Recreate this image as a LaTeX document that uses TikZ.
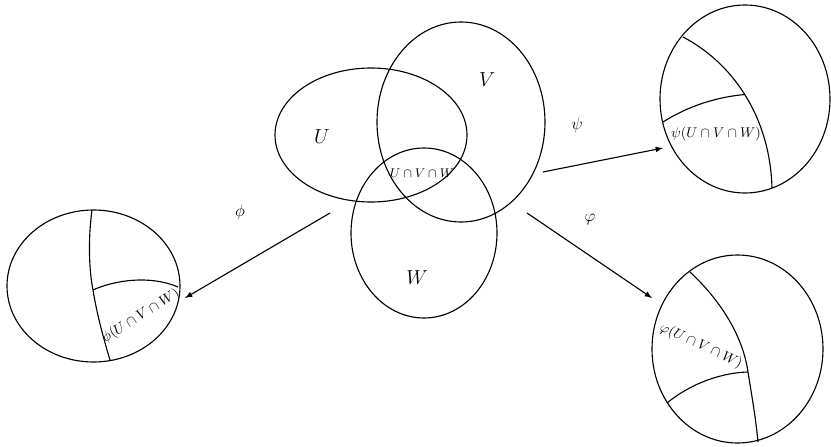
\documentclass[tikz,border=0pt]{standalone}
\usepackage{tikz}
\usetikzlibrary{calc}

\begin{document}
\begin{tikzpicture}[x=0.025cm, y=-0.025cm, line width=0.8pt]
\useasboundingbox (0,0) rectangle (831,447);
        %venn
  \coordinate (Uc) at (371,135);
  \coordinate (Vc) at (461,122);
  \coordinate (Wc) at (424,233);
  \draw (Uc) ellipse [x radius=96, y radius=67];
  \draw (Vc) ellipse [x radius=84, y radius=100];
  \draw (Wc) ellipse [x radius=73, y radius=85];
  \node[font=\Large] (U) at (322,137) {$U$};
  \node[font=\Large] (V) at (487,80) {$V$};
  \node[font=\Large] (W) at (417,278) {$W$};
  \node[font=\small] (UVW) at (422,173) {$U\cap V\cap W$};

  %psi chart
  \coordinate (PsA) at (745,99);
  \coordinate (PsB) at (683,37);
  \coordinate (PsD) at (772,188);
  \coordinate (PsE) at (663,122);
  \draw (PsA) ellipse [x radius=85, y radius=94];
  \draw (PsB) .. controls (731,62) and (770,115) .. (PsD) coordinate[pos=0.5] (PsC);
  \draw (PsE) .. controls (690,105) and (718,97) .. (PsC);
  \node (PsL) at (716,134) {$\psi(U\cap V\cap W)$};

  %varphi chart
  \coordinate (VpA) at (737.5,349);
  \coordinate (VpB) at (690,272);
  \coordinate (VpC) at (748,372);
  \coordinate (VpD) at (758,442);
  \coordinate (VpE) at (667,403);
  \draw (VpA) ellipse [x radius=85.5, y radius=94];
  \draw (VpB) .. controls (722,302) and (743,337) .. (VpC)
              .. controls (752,397) and (756,420) .. (VpD);
  \draw (VpE) .. controls (685,388) and (715,373) .. (VpC);
  \node[rotate=-25] (VpL) at (701,346) {$\varphi(U\cap V\cap W)$};

  %phi chart
  \coordinate (PhA) at (93.5,286);
  \coordinate (PhB) at (92,210);
  \coordinate (PhC) at (93,290);
  \coordinate (PhD) at (110,360);
  \coordinate (PhE) at (178,287);
  \draw (PhA) ellipse [x radius=86.5, y radius=76];
  \draw (PhB) .. controls (88,240) and (89,270) .. (PhC)
              .. controls (97,315) and (104,340) .. (PhD);
  \draw (PhC) .. controls (115,280) and (150,275) .. (PhE);
  \node[rotate=32] (PhL) at (141,316) {$\phi(U\cap V\cap W)$};

  %maps
  \coordinate (a1) at (330,213);
  \coordinate (a2) at (185,298);
  \coordinate (b1) at (543,172);
  \coordinate (b2) at (663,148);
  \coordinate (c1) at (527,213);
  \coordinate (c2) at (652,298);
  \draw[-latex] (a1) -- (a2);
  \draw[-latex] (b1) -- (b2);
  \draw[-latex] (c1) -- (c2);
  \node[font=\large] (phi) at (240,212) {$\phi$};
  \node[font=\large] (psi) at (577,125) {$\psi$};
  \node[font=\large] (vphi) at (590,220) {$\varphi$};
\end{tikzpicture}
\end{document}
